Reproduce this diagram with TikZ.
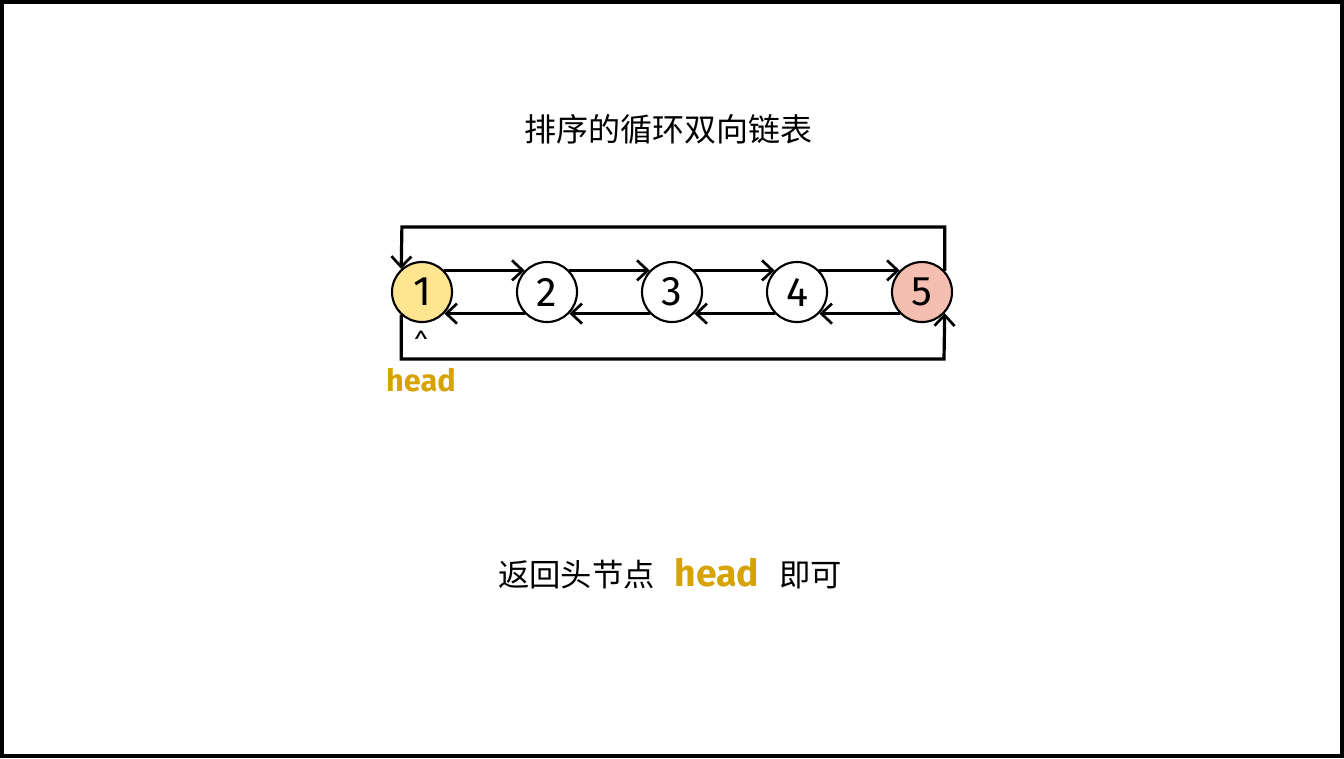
\documentclass[tikz,border=0pt]{standalone}
\usepackage{fontspec}
\setmainfont{Fira Sans}
\newfontfamily\cjk{Noto Sans CJK SC}
\usetikzlibrary{arrows.meta}
\definecolor{headgold}{RGB}{214,163,0}
\definecolor{headfill}{RGB}{255,229,143}
\definecolor{tailfill}{RGB}{244,190,176}
\tikzset{
  lnode/.style={circle,draw,line width=1.6pt,minimum size=45pt,inner sep=0pt,font=\fontsize{31}{34}\selectfont},
  link/.style={line width=2.4pt,-{Straight Barb[length=8pt,width=15pt,line width=2pt]}}
}
\begin{document}
\begin{tikzpicture}[x=0.75pt,y=0.75pt,yscale=-1]
\useasboundingbox (0,0) rectangle (1344,758);

%Shape: Frame
\draw [line width=2.4pt] (2,2) rectangle (1342,756);

% Text Node
\node (title) at (668,129) {\cjk\fontsize{24}{28}\selectfont 排序的循环双向链表};

%Shape: Circles
\node [lnode,fill=headfill] (n1) at (422,292) {1};
\node [lnode] (n2) at (547,292) {2};
\node [lnode] (n3) at (672,292) {3};
\node [lnode] (n4) at (797,292) {4};
\node [lnode,fill=tailfill] (n5) at (922,292) {5};

%Straight Lines: next / prev
\foreach \a/\b in {n1/n2,n2/n3,n3/n4,n4/n5}{
  \draw [link] (\a.44) -- (\b.136);
  \draw [link] (\b.-136) -- (\a.-44);
}

%Straight Lines: wrap round
\coordinate (loopt) at (401.9,227);
\coordinate (loopb) at (944,359);
\draw [link] (n5.43) |- (loopt) -- (n1.132);
\draw [link] (n1.-132) |- (loopb) -- (n5.-43);

% Text Node
\node (caret) at (421,342) {\fontsize{20}{22}\selectfont\^{}};
% Text Node
\node [text=headgold] (head) at (421,380) {\bfseries\fontsize{23}{26}\selectfont head};
% Text Node
\node (ret) at (670,574) {\cjk\fontsize{23.5}{27}\selectfont 返回头节点\hspace{15pt}{\rmfamily\bfseries\color{headgold}\fontsize{28}{30}\selectfont head}\hspace{15pt}即可};

\end{tikzpicture}
\end{document}
